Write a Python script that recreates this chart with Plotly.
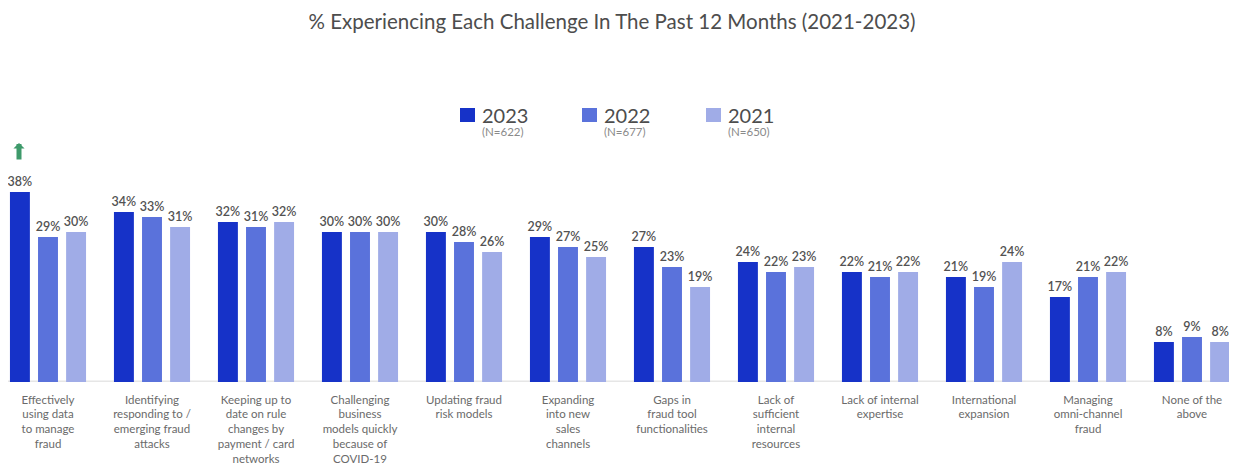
import plotly.graph_objects as go

categories = [
    "Effectively<br>using data<br>to manage<br>fraud",
    "Identifying<br>responding to /<br>emerging fraud<br>attacks",
    "Keeping up to<br>date on rule<br>changes by<br>payment / card<br>networks",
    "Challenging<br>business<br>models quickly<br>because of<br>COVID-19",
    "Updating fraud<br>risk models",
    "Expanding<br>into new<br>sales<br>channels",
    "Gaps in<br>fraud tool<br>functionalities",
    "Lack of<br>sufficient<br>internal<br>resources",
    "Lack of internal<br>expertise",
    "International<br>expansion",
    "Managing<br>omni-channel<br>fraud",
    "None of the<br>above",
]
v2023 = [38, 34, 32, 30, 30, 29, 27, 24, 22, 21, 17, 8]
v2022 = [29, 33, 31, 30, 28, 27, 23, 22, 21, 19, 21, 9]
v2021 = [30, 31, 32, 30, 26, 25, 19, 23, 22, 24, 22, 8]
series_names = ["2023", "2022", "2021"]
series_n = ["(N=622)", "(N=677)", "(N=650)"]
colors = ["#1632C8", "#5A72DB", "#A0ACE7"]

FONT = "Lato"
W, H = 1229, 460          # page body has an 8px margin
ML, MR, MT, MB = 0, 0, 124, 86
PW, PH = W - ML - MR, H - MT - MB


def px_x(px):
    return (px - ML) / PW


def px_y(py):
    return (H - MB - py) / PH


fig = go.Figure()
for name, vals, col in zip(series_names, [v2023, v2022, v2021], colors):
    fig.add_trace(go.Bar(
        x=categories, y=vals, name=name,
        marker=dict(color=col, line=dict(width=0)),
        texttemplate="%{y}%", textposition="outside",
        textfont=dict(size=12.5, color="#525252", family=FONT, weight=600),
        constraintext="none", cliponaxis=False,
        hoverinfo="skip", showlegend=False,
    ))

# custom legend (year + sample size)
legend_left = [452, 574, 698]
for name, n, col, lx in zip(series_names, series_n, colors, legend_left):
    fig.add_shape(type="rect", xref="paper", yref="paper",
                  x0=px_x(lx), x1=px_x(lx + 15), y0=px_y(114), y1=px_y(100),
                  fillcolor=col, line=dict(width=0))
    fig.add_annotation(text=name, xref="paper", yref="paper",
                       x=px_x(lx + 20), y=px_y(107), xanchor="left", yanchor="middle",
                       showarrow=False, font=dict(size=20, color="#4d4d4d", family=FONT))
    fig.add_annotation(text=n, xref="paper", yref="paper",
                       x=px_x(lx + 20), y=px_y(123), xanchor="left", yanchor="middle",
                       showarrow=False, font=dict(size=11.5, color="#8a8a8a", family=FONT))

# green "up" arrow over the first 2023 bar
fig.add_annotation(
    x=categories[0], y=47.8, xref="x", yref="y",
    xshift=-29, ax=0, ay=18, axref="pixel", ayref="pixel",
    showarrow=True, arrowhead=1, arrowsize=0.37, arrowwidth=5,
    arrowcolor="#3E9A6B", text="",
)

fig.update_layout(
    width=W, height=H,
    margin=dict(l=ML, r=MR, t=MT, b=MB, autoexpand=False),
    paper_bgcolor="white", plot_bgcolor="white",
    font=dict(family=FONT, color="#5a5a5a"),
    title=dict(
        text="% Experiencing Each Challenge In The Past 12 Months (2021-2023)",
        x=0.4915, xanchor="center", y=1 - 13.5 / H, yanchor="middle",
        font=dict(size=20.5, color="#4d4d4d", family=FONT),
    ),
    barmode="group", bargap=0.19, bargroupgap=0.29,
    showlegend=False,
    xaxis=dict(
        range=[-40 / 104, -40 / 104 + PW / 104], showgrid=False, zeroline=False,
        showline=False, ticks="", ticklabelstandoff=9, automargin=False,
        tickfont=dict(size=11.5, color="#6a6a6a", family=FONT, weight=400),
    ),
    yaxis=dict(range=[0, 50], visible=False, showgrid=False, zeroline=False,
               automargin=False),
)
fig.add_shape(type="line", xref="paper", yref="y", x0=0, x1=1, y0=0, y1=0,
              line=dict(color="#E6E6E6", width=3), layer="below")

fig.write_html("out.html")
